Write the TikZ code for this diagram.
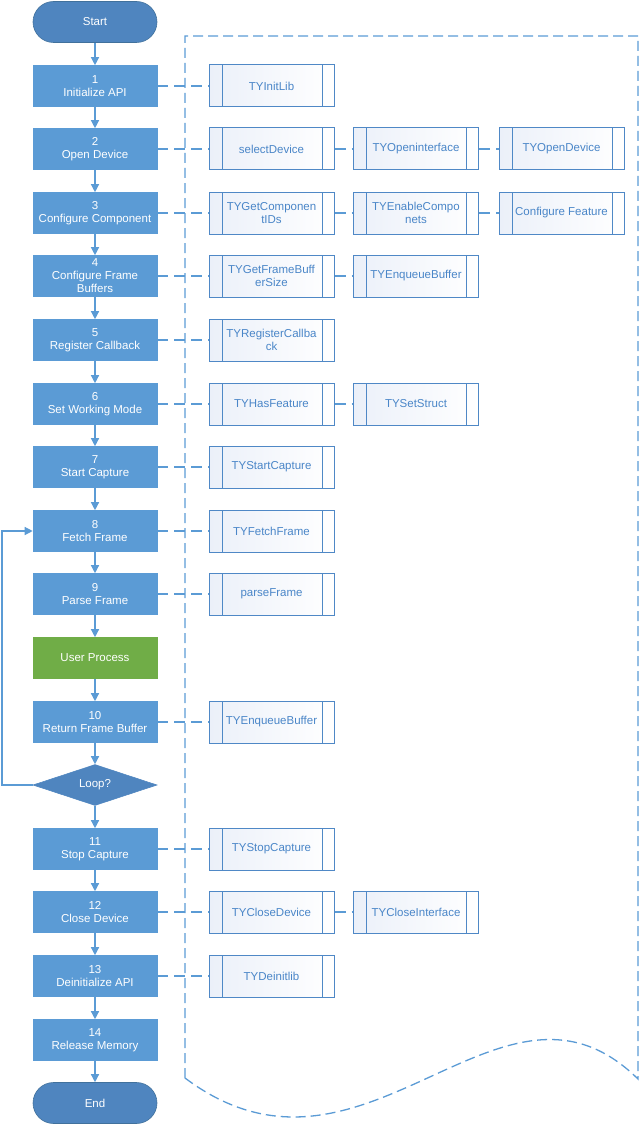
\documentclass[tikz,border=0pt]{standalone}
\usepackage{fontspec}
\setmainfont{Liberation Sans}
\usetikzlibrary{arrows.meta,shapes.geometric}
\definecolor{procblue}{HTML}{5B9BD5}
\definecolor{termblue}{HTML}{4F85BF}
\definecolor{termedge}{HTML}{41719C}
\definecolor{sideedge}{HTML}{4F88C6}
\definecolor{sidetext}{HTML}{4A86C8}
\definecolor{sidebg}{HTML}{EBF0F9}
\definecolor{usergreen}{HTML}{70AD47}
\begin{document}
\begin{tikzpicture}[x=1pt,y=-1pt,
  every node/.style={font=\fontsize{11.5pt}{13pt}\selectfont, align=center, inner sep=0pt},
  proc/.style={rectangle, fill=procblue, draw=procblue, line width=0.6pt, text=white, minimum width=124pt, minimum height=41pt},
  user/.style={rectangle, fill=usergreen, draw=usergreen, line width=0.6pt, text=white, minimum width=124pt, minimum height=41pt},
  term/.style={rectangle, rounded corners=20.5pt, fill=termblue, draw=termedge, line width=0.6pt, text=white, minimum width=124pt, minimum height=41pt},
  decide/.style={diamond, aspect=3, fill=termblue, draw=termblue, line width=0.6pt, text=white, minimum width=124pt, minimum height=41pt},
  sub/.style={rectangle, draw=sideedge, line width=1pt, left color=sidebg, right color=white, text=sidetext, minimum width=125pt, minimum height=42pt,
    path picture={
      \draw[sideedge, line width=1pt] ([xshift=13pt]path picture bounding box.north west) -- ([xshift=13pt]path picture bounding box.south west);
      \draw[sideedge, line width=1pt] ([xshift=-12pt]path picture bounding box.north east) -- ([xshift=-12pt]path picture bounding box.south east);
    }},
  arr/.style={draw=procblue, line width=1.3pt, -{Triangle[length=8pt,width=8pt]}},
  dcon/.style={draw=procblue, line width=1.5pt, dash pattern=on 11pt off 6pt},
  frameline/.style={draw=procblue, line width=1.3pt, dash pattern=on 10pt off 5pt}
]
\useasboundingbox (0,0) rectangle (640,1126);

% dashed frame
\draw[frameline] (185,1078) -- (185,36) -- (638,36) -- (638,1079)
  .. controls (500,943) and (365,1213) .. (185,1078);

% main column
\node[term] (start) at (95,22) {Start};
\node[proc] (p1) at (95,86) {1\\Initialize API};
\node[proc] (p2) at (95,149) {2\\Open Device};
\node[proc] (p3) at (95,213) {3\\Configure Component};
\node[proc] (p4) at (95,276) {4\\Configure Frame\\Buffers};
\node[proc] (p5) at (95,340) {5\\Register Callback};
\node[proc] (p6) at (95,404) {6\\Set Working Mode};
\node[proc] (p7) at (95,467) {7\\Start Capture};
\node[proc] (p8) at (95,531) {8\\Fetch Frame};
\node[proc] (p9) at (95,594) {9\\Parse Frame};
\node[user] (up) at (95,658) {User Process};
\node[proc] (p10) at (95,722) {10\\Return Frame Buffer};
\node[decide] (loop) at (95,785) {Loop?};
\node[proc] (p11) at (95,849) {11\\Stop Capture};
\node[proc] (p12) at (95,912) {12\\Close Device};
\node[proc] (p13) at (95,976) {13\\Deinitialize API};
\node[proc] (p14) at (95,1040) {14\\Release Memory};
\node[term] (end) at (95,1103) {End};

% side column
\node[sub] (s1a) at (271.5,86) {TYInitLib};
\node[sub] (s2a) at (271.5,149) {selectDevice};
\node[sub] (s2b) at (416,149) {TYOpeninterface};
\node[sub] (s2c) at (561.5,149) {TYOpenDevice};
\node[sub] (s3a) at (271.5,213) {TYGetComponen\\tIDs};
\node[sub] (s3b) at (416,213) {TYEnableCompo\\nets};
\node[sub] (s3c) at (561.5,213) {Configure Feature};
\node[sub] (s4a) at (271.5,276) {TYGetFrameBuff\\erSize};
\node[sub] (s4b) at (416,276) {TYEnqueueBuffer};
\node[sub] (s5a) at (271.5,340) {TYRegisterCallba\\ck};
\node[sub] (s6a) at (271.5,404) {TYHasFeature};
\node[sub] (s6b) at (416,404) {TYSetStruct};
\node[sub] (s7a) at (271.5,467) {TYStartCapture};
\node[sub] (s8a) at (271.5,531) {TYFetchFrame};
\node[sub] (s9a) at (271.5,594) {parseFrame};
\node[sub] (s10a) at (271.5,722) {TYEnqueueBuffer};
\node[sub] (s11a) at (271.5,849) {TYStopCapture};
\node[sub] (s12a) at (271.5,912) {TYCloseDevice};
\node[sub] (s12b) at (416,912) {TYCloseInterface};
\node[sub] (s13a) at (271.5,976) {TYDeinitlib};

% main arrows
\draw[arr] (start) -- (p1);
\draw[arr] (p1) -- (p2);
\draw[arr] (p2) -- (p3);
\draw[arr] (p3) -- (p4);
\draw[arr] (p4) -- (p5);
\draw[arr] (p5) -- (p6);
\draw[arr] (p6) -- (p7);
\draw[arr] (p7) -- (p8);
\draw[arr] (p8) -- (p9);
\draw[arr] (p9) -- (up);
\draw[arr] (up) -- (p10);
\draw[arr] (p10) -- (loop);
\draw[arr] (loop) -- (p11);
\draw[arr] (p11) -- (p12);
\draw[arr] (p12) -- (p13);
\draw[arr] (p13) -- (p14);
\draw[arr] (p14) -- (end);

% loop back
\coordinate (lc) at (2,785);
\draw[arr] (loop.west) -- (lc) |- (p8.west);

% dashed links
\draw[dcon] (p1) -- (s1a);
\draw[dcon] (p2) -- (s2a);
\draw[dcon] (s2a) -- (s2b);
\draw[dcon] (s2b) -- (s2c);
\draw[dcon] (p3) -- (s3a);
\draw[dcon] (s3a) -- (s3b);
\draw[dcon] (s3b) -- (s3c);
\draw[dcon] (p4) -- (s4a);
\draw[dcon] (s4a) -- (s4b);
\draw[dcon] (p5) -- (s5a);
\draw[dcon] (p6) -- (s6a);
\draw[dcon] (s6a) -- (s6b);
\draw[dcon] (p7) -- (s7a);
\draw[dcon] (p8) -- (s8a);
\draw[dcon] (p9) -- (s9a);
\draw[dcon] (p10) -- (s10a);
\draw[dcon] (p11) -- (s11a);
\draw[dcon] (p12) -- (s12a);
\draw[dcon] (s12a) -- (s12b);
\draw[dcon] (p13) -- (s13a);
\end{tikzpicture}
\end{document}
